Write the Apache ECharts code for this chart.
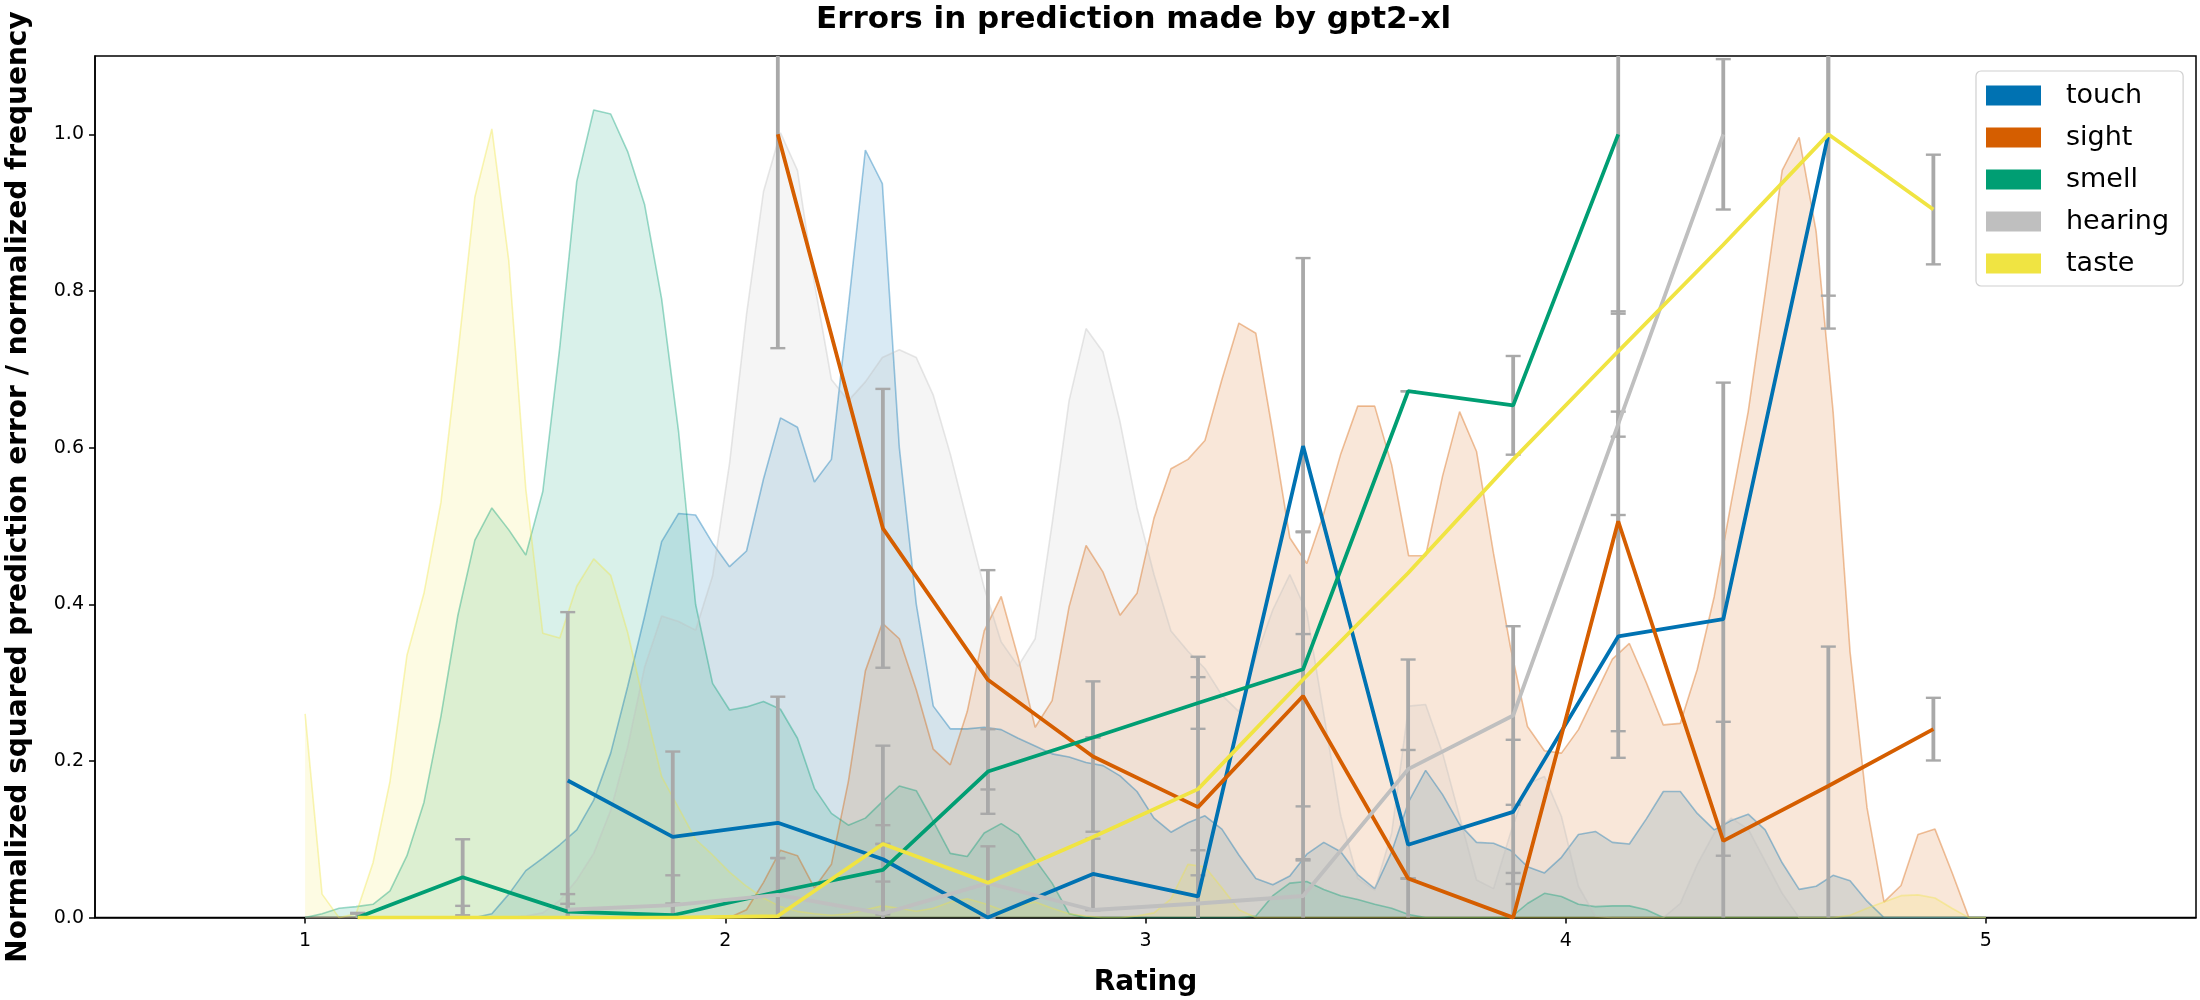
<!DOCTYPE html>
<html>
<head>
<meta charset="utf-8">
<script src="https://cdn.jsdelivr.net/npm/echarts@6/dist/echarts.min.js"></script>
<style>
html,body{margin:0;padding:0;background:#ffffff;}
#chart{width:2200px;height:1000px;}
</style>
</head>
<body>
<div id="chart"></div>
<script>
// ---------------- data ----------------
const SENSE_NAMES = ['touch', 'sight', 'smell', 'hearing', 'taste'];
const X_TICKS = [1, 2, 3, 4, 5];
const Y_TICKS = [0, 0.2, 0.4, 0.6, 0.8, 1.0];

// rating bins (centres) for the mean-error lines
const BIN_X = [1.125, 1.375, 1.625, 1.875, 2.125, 2.375, 2.625, 2.875, 3.125, 3.375, 3.625, 3.875, 4.125, 4.375, 4.625, 4.875];

// normalized squared prediction error (mean) and error-bar half-length per bin
const touchMean = [null, null, 0.175, 0.103, 0.121, 0.0745, 0.0, 0.0557, 0.027, 0.602, 0.093, 0.135, 0.359, 0.381, 1.0, null];
const touchErr  = [null, null, 0.215, 0.109, 0.161, 0.145, 0.0, 0.045, 0.059, 0.24, 0.121, 0.092, 0.155, 0.302, 0.248, null];

const sightMean = [null, null, null, null, 1.0, 0.497, 0.3036, 0.2056, 0.141, 0.283, 0.05, 0.0, 0.506, 0.098, 0.168, 0.2406];
const sightErr  = [null, null, null, null, 0.273, 0.178, 0.14, 0.096, 0.192, 0.21, 0.0, 0.057, 0.268, 0.152, 0.178, 0.04];

const smellMean = [0.0, 0.0515, 0.0076, 0.003, 0.033, 0.061, 0.1865, 0.23, 0.274, 0.317, 0.672, 0.654, 1.0, null, null, null];
const smellErr  = [0.006, 0.0485, 0.01, 0.015, 0.043, 0.057, 0.054, 0.0, 0.033, 0.175, 0.0, 0.063, 0.229, null, null, null];

const hearingMean = [null, null, 0.01, 0.016, 0.029, 0.005, 0.044, 0.0097, 0.018, 0.0276, 0.1895, 0.258, 0.63, 1.0, null, null];
const hearingErr  = [null, null, 0.02, 0.038, 0.047, 0.041, 0.047, 0.0, 0.036, 0.047, 0.14, 0.114, 0.016, 0.096, null, null];

const tasteMean = [0.0, 0.0, 0.0, 0.0, 0.002, 0.094, 0.0446, 0.103, 0.164, 0.304, 0.44, 0.585, 0.723, 0.859, 1.0, 0.904];
const tasteErr  = [0.005, 0.015, null, null, null, 0.0, null, null, null, null, null, null, null, null, 0.206, 0.07];

// normalized rating frequency, sampled on linspace(1, 5, 100)
const DENSITY_START = 1, DENSITY_END = 5, DENSITY_COUNT = 100;
const DENSITY_X = Array.from({length: DENSITY_COUNT}, (_, i) => DENSITY_START + (DENSITY_END - DENSITY_START) * i / (DENSITY_COUNT - 1));

const touchFreq = [
  0, 0, 0, 0, 0, 0, 0, 0, 0, 0,
  0, 0.005, 0.03, 0.06, 0.076, 0.093, 0.112, 0.15, 0.21, 0.295,
  0.385, 0.48, 0.516, 0.514, 0.478, 0.448, 0.468, 0.56, 0.638, 0.626,
  0.556, 0.585, 0.78, 0.98, 0.937, 0.6, 0.4, 0.27, 0.241, 0.241,
  0.243, 0.24, 0.229, 0.219, 0.209, 0.205, 0.198, 0.194, 0.181, 0.161,
  0.127, 0.109, 0.121, 0.13, 0.113, 0.08, 0.05, 0.042, 0.053, 0.081,
  0.096, 0.084, 0.055, 0.037, 0.084, 0.148, 0.188, 0.157, 0.119, 0.096,
  0.095, 0.086, 0.065, 0.057, 0.077, 0.106, 0.11, 0.096, 0.094, 0.126,
  0.161, 0.161, 0.133, 0.112, 0.124, 0.132, 0.112, 0.07, 0.036, 0.04,
  0.054, 0.047, 0.021, 0, 0, 0, 0, 0, 0, 0
];
const sightFreq = [
  0, 0, 0, 0, 0, 0, 0, 0, 0, 0,
  0, 0, 0, 0, 0, 0, 0, 0, 0, 0,
  0, 0, 0, 0, 0, 0, 0.01, 0.045, 0.086, 0.079,
  0.038, 0.068, 0.174, 0.315, 0.376, 0.356, 0.291, 0.215, 0.195, 0.263,
  0.366, 0.41, 0.332, 0.243, 0.277, 0.397, 0.475, 0.441, 0.386, 0.414,
  0.51, 0.573, 0.585, 0.609, 0.687, 0.759, 0.746, 0.619, 0.485, 0.452,
  0.516, 0.592, 0.653, 0.653, 0.578, 0.462, 0.462, 0.564, 0.646, 0.595,
  0.465, 0.345, 0.244, 0.213, 0.21, 0.24, 0.285, 0.33, 0.35, 0.3,
  0.246, 0.248, 0.317, 0.41, 0.53, 0.646, 0.797, 0.954, 0.996, 0.876,
  0.646, 0.339, 0.14, 0.02, 0.041, 0.106, 0.113, 0.058, 0, 0
];
const smellFreq = [
  0, 0.005, 0.012, 0.014, 0.017, 0.034, 0.079, 0.147, 0.257, 0.386,
  0.482, 0.523, 0.495, 0.463, 0.544, 0.728, 0.94, 1.031, 1.026, 0.978,
  0.91, 0.79, 0.62, 0.4, 0.299, 0.265, 0.269, 0.276, 0.266, 0.229,
  0.165, 0.133, 0.118, 0.127, 0.148, 0.168, 0.162, 0.123, 0.082, 0.078,
  0.108, 0.12, 0.106, 0.074, 0.044, 0.005, 0, 0, 0, 0,
  0, 0, 0, 0, 0, 0, 0.002, 0.028, 0.044, 0.046,
  0.036, 0.028, 0.023, 0.017, 0.012, 0.004, 0, 0, 0, 0,
  0, 0, 0.018, 0.031, 0.027, 0.017, 0.014, 0.015, 0.015, 0.01,
  0, 0, 0, 0, 0, 0, 0, 0, 0, 0,
  0, 0, 0, 0, 0, 0, 0, 0, 0, 0
];
const hearingFreq = [
  0, 0, 0, 0, 0, 0, 0, 0, 0, 0,
  0, 0, 0, 0.002, 0.006, 0.022, 0.048, 0.082, 0.137, 0.218,
  0.32, 0.385, 0.378, 0.367, 0.436, 0.58, 0.77, 0.927, 1.002, 0.954,
  0.81, 0.687, 0.66, 0.684, 0.715, 0.725, 0.715, 0.667, 0.592, 0.506,
  0.421, 0.352, 0.321, 0.356, 0.503, 0.66, 0.752, 0.722, 0.633, 0.523,
  0.438, 0.366, 0.34, 0.318, 0.284, 0.263, 0.332, 0.393, 0.438, 0.39,
  0.26, 0.13, 0.05, 0.035, 0.108, 0.27, 0.272, 0.21, 0.129, 0.048,
  0.037, 0.108, 0.171, 0.18, 0.129, 0.04, 0.002, 0, 0, 0,
  0, 0.018, 0.068, 0.108, 0.127, 0.113, 0.072, 0.031, 0, 0,
  0, 0, 0, 0, 0, 0, 0, 0, 0, 0
];
const tasteFreq = [
  0.26, 0.03, 0, 0.005, 0.07, 0.174, 0.335, 0.414, 0.53, 0.72,
  0.92, 1.007, 0.838, 0.547, 0.363, 0.357, 0.423, 0.458, 0.437, 0.364,
  0.27, 0.18, 0.14, 0.1, 0.08, 0.058, 0.04, 0.025, 0.014, 0.008,
  0.005, 0.003, 0.005, 0.01, 0.015, 0.012, 0.008, 0.012, 0.02, 0.024,
  0.018, 0.01, 0.015, 0.02, 0.012, 0.005, 0.002, 0, 0, 0.002,
  0.006, 0.024, 0.068, 0.065, 0.038, 0.01, 0, 0, 0, 0,
  0, 0, 0, 0, 0, 0, 0, 0, 0, 0,
  0, 0, 0, 0, 0, 0, 0, 0, 0, 0,
  0, 0, 0, 0, 0, 0, 0, 0, 0, 0,
  0, 0.003, 0.012, 0.02, 0.028, 0.029, 0.025, 0.012, 0, 0
];

// ---------------- styling ----------------
const COLORS = {touch: '#0072B2', sight: '#D55E00', smell: '#009E73', hearing: '#BFBFBF', taste: '#F0E442'};
const ERR_COLOR = '#a9a9a9';
const FONT = 'DejaVu Sans';
const Y_MIN = 0, Y_MAX = 1.1, X_MIN = 0.5, X_MAX = 5.5;

const SENSES = [
  {name: 'touch', mean: touchMean, err: touchErr, freq: touchFreq},
  {name: 'sight', mean: sightMean, err: sightErr, freq: sightFreq},
  {name: 'smell', mean: smellMean, err: smellErr, freq: smellFreq},
  {name: 'hearing', mean: hearingMean, err: hearingErr, freq: hearingFreq},
  {name: 'taste', mean: tasteMean, err: tasteErr, freq: tasteFreq}
];

function renderErrorBar(params, api) {
  const x = api.value(0), lo = api.value(1), hi = api.value(2);
  const yLo = Math.max(lo, Y_MIN), yHi = Math.min(hi, Y_MAX);
  const pLo = api.coord([x, yLo]);
  const pHi = api.coord([x, yHi]);
  const half = 7.5;
  const children = [{
    type: 'line',
    shape: {x1: pLo[0], y1: pLo[1], x2: pHi[0], y2: pHi[1]},
    style: {stroke: ERR_COLOR, lineWidth: 3.8}
  }];
  if (lo >= Y_MIN) children.push({type: 'line', shape: {x1: pLo[0] - half, y1: pLo[1], x2: pLo[0] + half, y2: pLo[1]}, style: {stroke: ERR_COLOR, lineWidth: 2.4}});
  if (hi <= Y_MAX) children.push({type: 'line', shape: {x1: pHi[0] - half, y1: pHi[1], x2: pHi[0] + half, y2: pHi[1]}, style: {stroke: ERR_COLOR, lineWidth: 2.4}});
  return {type: 'group', children: children};
}

const series = [];
// frequency areas
SENSES.forEach(s => {
  const c = COLORS[s.name];
  series.push({
    type: 'line', name: s.name + ' frequency', silent: true, animation: false,
    symbol: 'none', showSymbol: false, z: 1,
    data: DENSITY_X.map((x, i) => [x, s.freq[i]]),
    lineStyle: {color: c, width: 1.6, opacity: 0.38},
    areaStyle: {color: c, opacity: 0.15},
    itemStyle: {color: c}
  });
});
// mean error lines with error bars
SENSES.forEach(s => {
  const c = COLORS[s.name];
  const pts = [], bars = [];
  BIN_X.forEach((x, i) => {
    if (s.mean[i] === null) return;
    pts.push([x, s.mean[i]]);
    if (s.err[i] !== null) bars.push([x, s.mean[i] - s.err[i], s.mean[i] + s.err[i]]);
  });
  series.push({
    type: 'line', name: s.name, animation: false, symbol: 'none', showSymbol: false, z: 3,
    data: pts, lineStyle: {color: c, width: 3.8}, itemStyle: {color: c}
  });
  series.push({
    type: 'custom', name: s.name + ' error', animation: false, silent: true, z: 3,
    renderItem: renderErrorBar, encode: {x: 0, y: [1, 2]},
    data: bars
  });
});

const chart = echarts.init(document.getElementById('chart'), null, {renderer: 'canvas'});
chart.setOption({
  backgroundColor: '#ffffff',
  animation: false,
  title: {
    text: 'Errors in prediction made by gpt2-xl',
    left: 816, top: 4, padding: 0,
    textStyle: {fontFamily: FONT, fontSize: 31, fontWeight: 'bold', color: '#000'}
  },
  legend: {
    orient: 'vertical', left: 1976, top: 71,
    padding: [11, 14, 9, 10], itemGap: 15, itemWidth: 55, itemHeight: 20,
    icon: 'rect',
    backgroundColor: 'rgba(255,255,255,0.8)', borderColor: '#d0d0d0', borderWidth: 1.2, borderRadius: 5,
    textStyle: {fontFamily: FONT, fontSize: 27, lineHeight: 27, color: '#000', padding: [0, 0, 0, 20]},
    data: SENSE_NAMES.map(n => ({name: n, icon: 'rect', itemStyle: {color: COLORS[n], borderWidth: 0}}))
  },
  grid: {left: 95, right: 4, top: 56, bottom: 82.4, show: true, borderColor: '#000', borderWidth: 1.5, containLabel: false},
  xAxis: {
    type: 'value', min: X_MIN, max: X_MAX,
    splitLine: {show: false},
    axisLine: {show: true, onZero: false, lineStyle: {color: '#000', width: 1.5}},
    axisTick: {show: true, inside: false, length: 6, lineStyle: {color: '#000', width: 1.5}, customValues: X_TICKS},
    axisLabel: {customValues: X_TICKS, fontFamily: FONT, fontSize: 19, color: '#000', margin: 14, formatter: v => String(v)}
  },
  yAxis: {
    type: 'value', min: Y_MIN, max: Y_MAX,
    splitLine: {show: false},
    axisLine: {show: true, onZero: false, lineStyle: {color: '#000', width: 1.5}},
    axisTick: {show: true, inside: false, length: 6, lineStyle: {color: '#000', width: 1.5}, customValues: Y_TICKS},
    axisLabel: {customValues: Y_TICKS, fontFamily: FONT, fontSize: 19, color: '#000', margin: 11, formatter: v => Number(v).toFixed(1)}
  },
  graphic: [
    {
      type: 'text', x: 19, y: 487, rotation: Math.PI / 2, z: 10,
      style: {
        text: 'Normalized squared prediction error / normalized frequency',
        font: 'bold 28px "DejaVu Sans"', fill: '#000',
        align: 'center', verticalAlign: 'middle', textAlign: 'center', textVerticalAlign: 'middle'
      }
    },
    {
      type: 'text', x: 1145.5, y: 983, z: 10,
      style: {
        text: 'Rating', font: 'bold 28px "DejaVu Sans"', fill: '#000',
        align: 'center', verticalAlign: 'middle', textAlign: 'center', textVerticalAlign: 'middle'
      }
    }
  ],
  series: series
});
</script>
</body>
</html>
